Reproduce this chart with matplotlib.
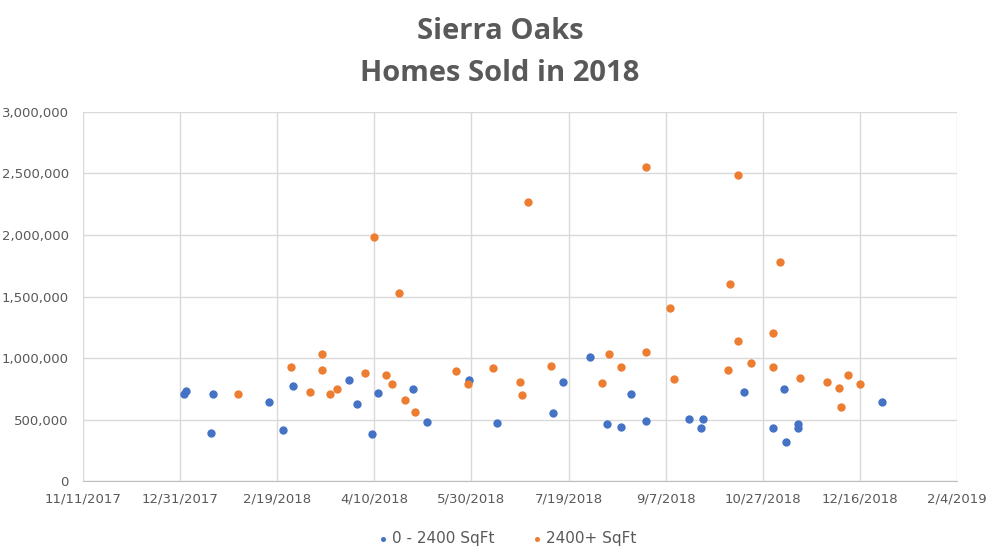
import matplotlib
matplotlib.use("Agg")
import matplotlib.pyplot as plt
import numpy as np
import pandas as pd

# 0 - 2400 SqFt sales
small_dates = ["2018-01-02", "2018-01-03", "2018-01-17", "2018-01-16", "2018-02-15",
               "2018-02-22", "2018-02-27", "2018-03-28", "2018-04-01", "2018-04-09",
               "2018-04-12", "2018-04-30", "2018-05-07", "2018-05-29", "2018-06-12",
               "2018-07-11", "2018-07-16", "2018-07-30", "2018-08-08", "2018-08-15",
               "2018-08-20", "2018-08-28", "2018-09-19", "2018-09-26", "2018-09-25",
               "2018-10-17", "2018-11-01", "2018-11-07", "2018-11-08", "2018-11-14",
               "2018-11-14", "2018-12-27"]
small_prices = [711000, 735000, 711000, 394000, 646000,
                419000, 776000, 825000, 630000, 386000,
                719000, 752000, 484000, 820000, 476000,
                557000, 808000, 1011000, 468000, 443000,
                711000, 492000, 508000, 508000, 435000,
                727000, 435000, 752000, 321000, 468000,
                435000, 646000]

# 2400+ SqFt sales
large_dates = ["2018-01-30", "2018-02-26", "2018-03-08", "2018-03-14", "2018-03-14",
               "2018-03-18", "2018-03-22", "2018-04-05", "2018-04-10", "2018-04-16",
               "2018-04-19", "2018-04-23", "2018-04-26", "2018-05-01", "2018-05-22",
               "2018-05-28", "2018-06-10", "2018-06-24", "2018-06-25", "2018-06-28",
               "2018-07-10", "2018-08-05", "2018-08-09", "2018-08-15", "2018-08-28",
               "2018-08-28", "2018-09-09", "2018-09-11", "2018-10-09", "2018-10-10",
               "2018-10-14", "2018-10-14", "2018-10-21", "2018-11-01", "2018-11-01",
               "2018-11-05", "2018-11-15", "2018-11-29", "2018-12-05", "2018-12-06",
               "2018-12-10", "2018-12-16"]
large_prices = [711000, 928000, 727000, 1036000, 906000,
                711000, 752000, 881000, 1985000, 865000,
                792000, 1531000, 662000, 565000, 898000,
                792000, 922000, 808000, 703000, 2270000,
                938000, 800000, 1036000, 930000, 1052000,
                2550000, 1409000, 828000, 906000, 1604000,
                2489000, 1141000, 963000, 1206000, 930000,
                1782000, 841000, 808000, 760000, 606000,
                865000, 792000]

blue = "#4472C4"
orange = "#ED7D31"
gray = "#595959"

fig = plt.figure(figsize=(10, 5.6), dpi=100)
ax = fig.add_axes([0.0827, 0.1405, 0.8746, 0.66])

ax.scatter(pd.to_datetime(small_dates), small_prices, s=36, color=blue,
           label="0 - 2400 SqFt", zorder=3, linewidths=0)
ax.scatter(pd.to_datetime(large_dates), large_prices, s=36, color=orange,
           label="2400+ SqFt", zorder=3, linewidths=0)

start = pd.Timestamp("2017-11-11")
ticks = [start + pd.Timedelta(days=50 * i) for i in range(10)]
ax.set_xlim(ticks[0], ticks[-1])
ax.set_xticks(ticks)
ax.set_xticklabels([f"{t.month}/{t.day}/{t.year}" for t in ticks])
ax.set_ylim(0, 3000000)
ax.set_yticks(np.arange(0, 3000001, 500000))
ax.yaxis.set_major_formatter(matplotlib.ticker.FuncFormatter(lambda v, p: f"{int(v):,}"))

ax.grid(True, color="#D9D9D9", linewidth=1)
ax.set_axisbelow(True)
for s in ["top", "right", "left"]:
    ax.spines[s].set_visible(False)
ax.spines["bottom"].set_color("#BFBFBF")
ax.tick_params(length=0, colors=gray, labelsize=9.5, pad=8)
ax.tick_params(axis="y", pad=10)

fig.suptitle("Sierra Oaks\nHomes Sold in 2018", y=0.97, fontsize=21,
             fontweight="bold", color=gray, family="Open Sans", linespacing=1.6)

leg = fig.legend(loc="lower center", bbox_to_anchor=(0.505, 0.0), ncol=2, frameon=False,
                 fontsize=11, markerscale=0.6, handletextpad=0.0, handlelength=1.2,
                 columnspacing=2.2)
for t in leg.get_texts():
    t.set_color(gray)

fig.savefig("out.png", dpi=100)
